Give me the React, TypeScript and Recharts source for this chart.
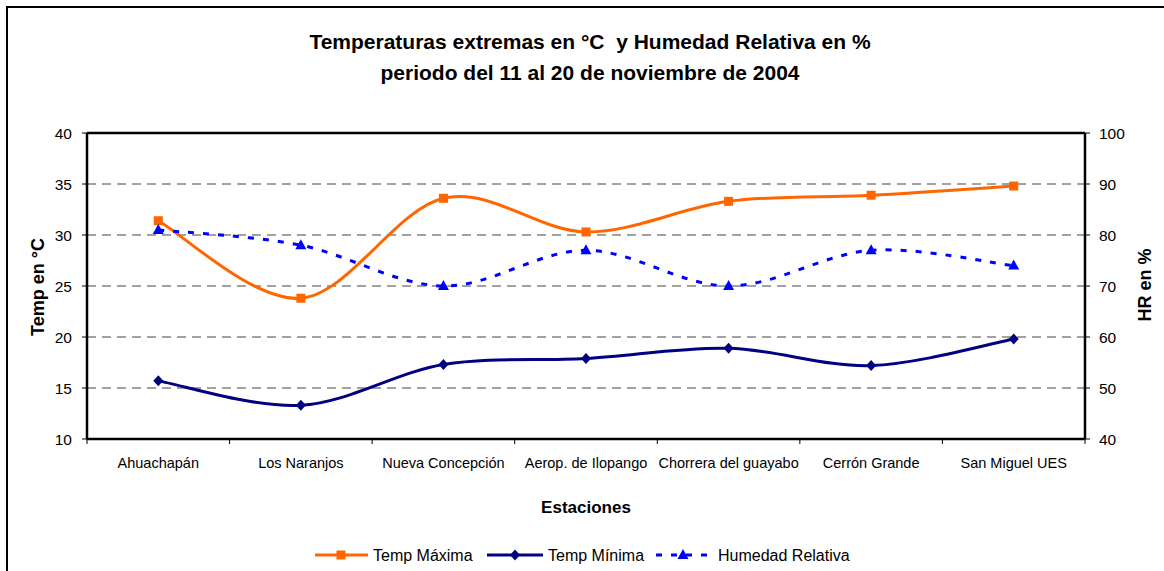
import React from 'react';
import { LineChart, Line, XAxis, YAxis, CartesianGrid, ReferenceLine } from 'recharts';

const categories = [
  'Ahuachapán',
  'Los Naranjos',
  'Nueva Concepción',
  'Aerop. de Ilopango',
  'Chorrera del guayabo',
  'Cerrón Grande',
  'San Miguel UES',
];
const tempMax = [31.4, 23.8, 33.6, 30.3, 33.3, 33.9, 34.8];
const tempMin = [15.7, 13.3, 17.3, 17.9, 18.9, 17.2, 19.8];
const humedad = [81, 78, 70, 77, 70, 77, 74];

const leftTicks = [10, 15, 20, 25, 30, 35, 40];
const rightTicks = [40, 50, 60, 70, 80, 90, 100];

const titleLines = [
  'Temperaturas extremas en °C  y Humedad Relativa en %',
  'periodo del 11 al 20 de noviembre de 2004',
];
const seriesNames = ['Temp Máxima', 'Temp Mínima', 'Humedad Relativa'];

const data = categories.map((name, i) => ({
  x: i + 0.5,
  name,
  tmax: tempMax[i],
  tmin: tempMin[i],
  hr: humedad[i],
}));

const xTicks: number[] = [];
categories.forEach((_, i) => {
  xTicks.push(i, i + 0.5);
});
xTicks.push(categories.length);

const FONT = '"Liberation Sans", Arial, sans-serif';
const ORANGE = '#FF6600';
const NAVY = '#000080';
const BLUE = '#0000FF';

// Excel-like smoothing (uniform Catmull-Rom as cubic Bezier)
const excelSmooth: any = (context: any) => {
  let pts: number[][] = [];
  return {
    areaStart() {},
    areaEnd() {},
    lineStart() {
      pts = [];
    },
    point(x: number, y: number) {
      pts.push([+x, +y]);
    },
    lineEnd() {
      if (!pts.length) return;
      context.moveTo(pts[0][0], pts[0][1]);
      for (let i = 0; i < pts.length - 1; i++) {
        const p0 = pts[i - 1] || pts[i];
        const p1 = pts[i];
        const p2 = pts[i + 1];
        const p3 = pts[i + 2] || pts[i + 1];
        const c1x = p1[0] + (p2[0] - p0[0]) / 6;
        const c1y = p1[1] + (p2[1] - p0[1]) / 6;
        const c2x = p2[0] - (p3[0] - p1[0]) / 6;
        const c2y = p2[1] - (p3[1] - p1[1]) / 6;
        context.bezierCurveTo(c1x, c1y, c2x, c2y, p2[0], p2[1]);
      }
    },
  };
};

const SquareDot = (props: any) => {
  const { cx, cy, index } = props;
  if (cx == null || cy == null) return <g key={index} />;
  return <rect key={index} x={cx - 4.5} y={cy - 4.5} width={9} height={9} fill={ORANGE} />;
};
const DiamondDot = (props: any) => {
  const { cx, cy, index } = props;
  if (cx == null || cy == null) return <g key={index} />;
  return (
    <polygon
      key={index}
      points={`${cx},${cy - 5.5} ${cx + 5},${cy} ${cx},${cy + 5.5} ${cx - 5},${cy}`}
      fill={NAVY}
    />
  );
};
const TriangleDot = (props: any) => {
  const { cx, cy, index } = props;
  if (cx == null || cy == null) return <g key={index} />;
  return (
    <polygon
      key={index}
      points={`${cx},${cy - 6} ${cx + 5.5},${cy + 4} ${cx - 5.5},${cy + 4}`}
      fill={BLUE}
    />
  );
};

const XTick = (props: any) => {
  const { x, y, payload } = props;
  const v = payload.value;
  if (Number.isInteger(v)) {
    return <line x1={x} y1={y - 5} x2={x} y2={y} stroke="#000" strokeWidth={1} />;
  }
  const label = categories[Math.floor(v)];
  return (
    <text x={x} y={y + 24} textAnchor="middle" fontSize={14.5} fill="#000" fontFamily={FONT}>
      {label}
    </text>
  );
};

const legendItems = [
  { name: seriesNames[0], color: ORANGE, x1: 315, x2: 368, mx: 341, tx: 373, kind: 'square', dash: undefined },
  { name: seriesNames[1], color: NAVY, x1: 487, x2: 543, mx: 515, tx: 548, kind: 'diamond', dash: undefined },
  { name: seriesNames[2], color: BLUE, x1: 656, x2: 714, mx: 683, tx: 718, kind: 'triangle', dash: '6 9' },
];

export default function App() {
  return (
    <div
      style={{
        position: 'absolute',
        left: 0,
        top: 0,
        width: 1164,
        height: 571,
        overflow: 'hidden',
        background: '#fff',
        fontFamily: FONT,
      }}
    >
      <div
        style={{
          position: 'absolute',
          left: 6,
          top: 6,
          width: 1300,
          height: 700,
          border: '2px solid #000',
          boxSizing: 'border-box',
        }}
      />
      <div style={{ position: 'absolute', left: 0, top: 0 }}>
        <LineChart
          width={1164}
          height={571}
          data={data}
          margin={{ top: 133, right: 0, bottom: 102, left: 0 }}
        >
          <CartesianGrid
            yAxisId="left"
            vertical={false}
            stroke="#444"
            strokeDasharray="9 6"
            strokeWidth={1}
          />
          <XAxis
            dataKey="x"
            type="number"
            domain={[0, categories.length]}
            ticks={xTicks}
            interval={0}
            height={30}
            tickSize={5}
            tickMargin={0}
            tickLine={false}
            tick={<XTick />}
            axisLine={{ stroke: '#000', strokeWidth: 2.5 }}
          />
          <YAxis
            yAxisId="left"
            orientation="left"
            domain={[10, 40]}
            ticks={leftTicks}
            interval={0}
            width={87}
            tickSize={5}
            tickMargin={10}
            tick={{ fontSize: 15.5, fill: '#000', fontFamily: FONT }}
            tickLine={{ stroke: '#000' }}
            axisLine={{ stroke: '#000', strokeWidth: 2.5 }}
          />
          <YAxis
            yAxisId="right"
            orientation="right"
            domain={[40, 100]}
            ticks={rightTicks}
            interval={0}
            width={79}
            tickSize={5}
            tickMargin={9}
            tick={{ fontSize: 15.5, fill: '#000', fontFamily: FONT }}
            tickLine={{ stroke: '#000' }}
            axisLine={{ stroke: '#000', strokeWidth: 2.5 }}
          />
          <ReferenceLine yAxisId="left" y={40} stroke="#000" strokeWidth={2.5} />
          <Line
            yAxisId="left"
            dataKey="tmax"
            name={seriesNames[0]}
            type={excelSmooth}
            stroke={ORANGE}
            strokeWidth={3}
            dot={SquareDot}
            activeDot={false}
            isAnimationActive={false}
          />
          <Line
            yAxisId="left"
            dataKey="tmin"
            name={seriesNames[1]}
            type={excelSmooth}
            stroke={NAVY}
            strokeWidth={3}
            dot={DiamondDot}
            activeDot={false}
            isAnimationActive={false}
          />
          <Line
            yAxisId="right"
            dataKey="hr"
            name={seriesNames[2]}
            type={excelSmooth}
            stroke={BLUE}
            strokeWidth={3}
            strokeDasharray="6 9"
            dot={TriangleDot}
            activeDot={false}
            isAnimationActive={false}
          />
        </LineChart>
      </div>
      <svg
        width={1164}
        height={571}
        style={{ position: 'absolute', left: 0, top: 0, pointerEvents: 'none' }}
        fontFamily={FONT}
      >
        <text
          x={590}
          y={49}
          textAnchor="middle"
          fontSize={21}
          fontWeight="bold"
          fill="#000"
          style={{ whiteSpace: 'pre' }}
        >
          {titleLines[0]}
        </text>
        <text x={590} y={80} textAnchor="middle" fontSize={21} fontWeight="bold" fill="#000">
          {titleLines[1]}
        </text>
        <text
          transform="translate(44,287) rotate(-90)"
          textAnchor="middle"
          fontSize={18}
          fontWeight="bold"
          fill="#000"
        >
          Temp en °C
        </text>
        <text
          transform="translate(1151,285) rotate(-90)"
          textAnchor="middle"
          fontSize={18}
          fontWeight="bold"
          fill="#000"
        >
          HR en %
        </text>
        <text x={586} y={513} textAnchor="middle" fontSize={17} fontWeight="bold" fill="#000">
          Estaciones
        </text>
        {legendItems.map((it) => (
          <g key={it.name}>
            <line
              x1={it.x1}
              y1={555}
              x2={it.x2}
              y2={555}
              stroke={it.color}
              strokeWidth={3}
              strokeDasharray={it.dash}
            />
            {it.kind === 'square' && <rect x={it.mx - 4.5} y={550.5} width={9} height={9} fill={it.color} />}
            {it.kind === 'diamond' && (
              <polygon
                points={`${it.mx},${549.5} ${it.mx + 5},${555} ${it.mx},${560.5} ${it.mx - 5},${555}`}
                fill={it.color}
              />
            )}
            {it.kind === 'triangle' && (
              <polygon
                points={`${it.mx},${549} ${it.mx + 5.5},${559} ${it.mx - 5.5},${559}`}
                fill={it.color}
              />
            )}
            <text x={it.tx} y={560.5} fontSize={16} fill="#000">
              {it.name}
            </text>
          </g>
        ))}
      </svg>
    </div>
  );
}
